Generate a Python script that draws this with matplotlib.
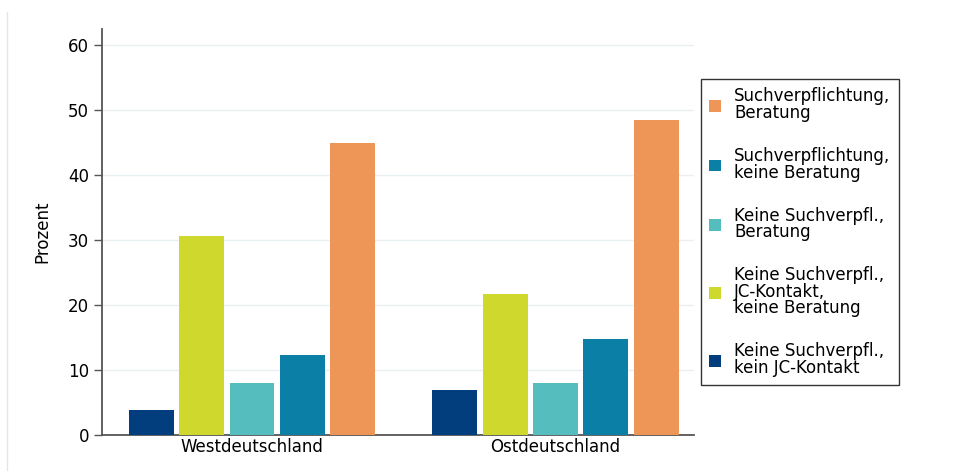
import matplotlib.pyplot as plt
import numpy as np
from matplotlib.lines import Line2D

plt.rcParams['font.family'] = ['DejaVu Sans']

# Daten
regionen = ['Westdeutschland', 'Ostdeutschland']
kategorien = [
    'Keine Suchverpfl.,\nkein JC-Kontakt',
    'Keine Suchverpfl.,\nJC-Kontakt,\nkeine Beratung',
    'Keine Suchverpfl.,\nBeratung',
    'Suchverpflichtung,\nkeine Beratung',
    'Suchverpflichtung,\nBeratung',
]
west = [3.9, 30.6, 8.0, 12.3, 44.9]
ost = [6.9, 21.7, 8.0, 14.8, 48.5]
farben = ['#023E7D', '#CFD82D', '#55BDBE', '#0C7FA6', '#EE9658']

werte = np.array([west, ost])

fig = plt.figure(figsize=(9.66, 4.71), dpi=100)
ax = fig.add_axes([0.1053, 0.0764, 0.6127, 0.862])

x = np.arange(len(regionen))
abstand = 0.166
breite = 0.148
for i, (kat, farbe) in enumerate(zip(kategorien, farben)):
    ax.bar(x + (i - 2) * abstand, werte[:, i], width=breite, color=farbe,
           label=kat, zorder=3)

ax.set_xlim(-0.495, 1.455)
ax.set_ylim(0, 62.5)
ax.set_yticks(range(0, 61, 10))
ax.set_xticks(x)
ax.set_xticklabels(regionen)
ax.tick_params(axis='x', length=0, pad=2, labelsize=12)
ax.tick_params(axis='y', length=6, width=1, color='#555555', labelsize=12, pad=3)
ax.set_ylabel('Prozent', fontsize=12, labelpad=12)
ax.grid(axis='y', color='#E8F0F3', linewidth=1, zorder=0)

for s in ['top', 'right']:
    ax.spines[s].set_visible(False)
for s in ['left', 'bottom']:
    ax.spines[s].set_color('#555555')
    ax.spines[s].set_linewidth(1.3)

handles, labels = ax.get_legend_handles_labels()
leg = fig.legend(handles[::-1], labels[::-1], loc='upper left',
                 bbox_to_anchor=(0.7257, 0.832), fontsize=12,
                 frameon=True, fancybox=False, edgecolor='black',
                 handlelength=0.7, handleheight=0.7, handletextpad=0.8,
                 labelspacing=1.5, borderpad=0.5, borderaxespad=0)
leg.get_frame().set_linewidth(1.0)
for t in leg.get_texts():
    t.set_linespacing(0.9)

# feine Linie am linken Rand
fig.add_artist(Line2D([0.0072, 0.0072], [0.0, 0.975], color='#E6E6E6',
                      linewidth=1, transform=fig.transFigure))

fig.savefig('out.png', dpi=100)
